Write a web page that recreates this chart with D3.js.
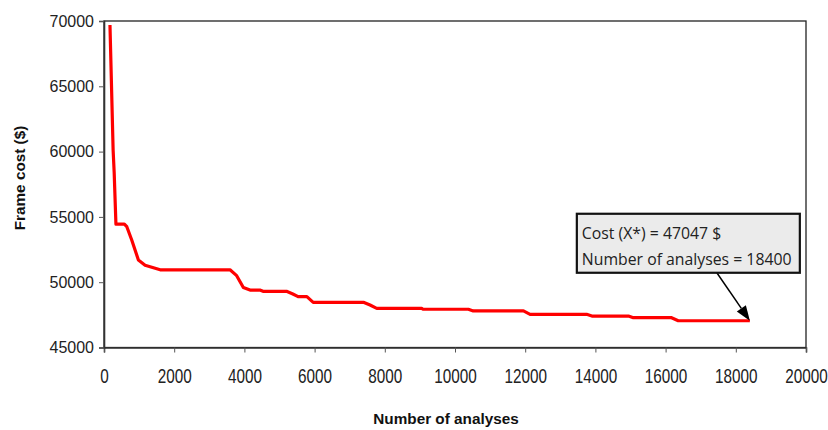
<!DOCTYPE html>
<html><head><meta charset="utf-8">
<script src="https://cdn.jsdelivr.net/npm/d3@7"></script>
<style>body{margin:0;background:#fff}svg{display:block}</style>
</head><body><svg id="c" width="828" height="430"></svg>
<script>
const analyses = [170,260,290,310,340,580,650,790,980,1170,1600,3590,3780,3970,4160,4440,4530,5200,5380,5530,5780,5960,7390,7580,7770,9050,9090,10380,10520,11950,12140,13750,13900,14940,15080,16170,16360,18400];
const cost = [69700,60100,58400,56800,54450,54450,54250,53230,51700,51300,50950,50950,50500,49600,49400,49400,49300,49300,49100,48900,48900,48460,48460,48250,48000,48000,47930,47930,47800,47800,47540,47540,47410,47410,47280,47280,47047,47047];
const xTicks = [0,2000,4000,6000,8000,10000,12000,14000,16000,18000,20000];
const yTicks = [45000,50000,55000,60000,65000,70000];
const annotLines = ["Cost (X*) = 47047 $","Number of analyses = 18400"];

const svg = d3.select("#c");
const L=104,R=806,T=21,B=347.5;
const x = d3.scaleLinear().domain([0,20000]).range([L,R]);
const y = d3.scaleLinear().domain([45000,70000]).range([B,T]);

svg.append("rect").attr("x",L).attr("y",T).attr("width",R-L).attr("height",B-T)
  .attr("fill","none").attr("stroke","#222").attr("stroke-width",1.3);

const fontTick = "Liberation Sans, Arial, sans-serif";
const gx = svg.append("g").attr("transform",`translate(0,${B})`)
  .call(d3.axisBottom(x).tickValues(xTicks).tickFormat(d3.format("d")).tickSizeOuter(0).tickSize(5));
const gy = svg.append("g").attr("transform",`translate(${L},0)`)
  .call(d3.axisLeft(y).tickValues(yTicks).tickFormat(d3.format("d")).tickSizeOuter(0).tickSize(5).tickPadding(5));
[gx,gy].forEach(g=>{
  g.select(".domain").attr("stroke","#333").attr("stroke-width",1.6);
  g.selectAll(".tick line").attr("stroke","#555").attr("stroke-width",1);
  g.selectAll("text").attr("font-family",fontTick).attr("fill","#222");
});
gy.selectAll("text").attr("font-size",16);
gx.selectAll("text").attr("font-size",15.3).attr("y",0).attr("dy",0)
  .attr("transform","translate(0,35.5) scale(1,1.3)");

const line = d3.line().x((d,i)=>x(analyses[i])).y((d,i)=>y(cost[i]));
svg.append("path").datum(cost).attr("d",line).attr("fill","none")
  .attr("stroke","#ff0000").attr("stroke-width",3.2).attr("stroke-linejoin","round");

svg.append("text").attr("x",446).attr("y",424).attr("text-anchor","middle")
  .attr("font-family",fontTick).attr("font-weight","bold").attr("font-size",15.3).attr("fill","#111")
  .text("Number of analyses");
svg.append("text").attr("transform","translate(25,178) rotate(-90)").attr("text-anchor","middle")
  .attr("font-family",fontTick).attr("font-weight","bold").attr("font-size",15.3).attr("fill","#111")
  .text("Frame cost ($)");

const ex = x(analyses[analyses.length-1]), ey = y(cost[cost.length-1]);
const bx = ex-173, by = ey-107, bw = 223, bh = 59;
const x1 = ex-33, y1 = by+bh;
const ang = Math.atan2(ey-y1, ex-x1), hl = 15, hw = 5.5;
const bxp = ex - hl*Math.cos(ang), byp = ey - hl*Math.sin(ang);
svg.append("line").attr("x1",x1).attr("y1",y1).attr("x2",bxp).attr("y2",byp)
  .attr("stroke","#000").attr("stroke-width",1.5);
svg.append("path").attr("fill","#000").attr("d",
  `M${ex},${ey}L${bxp+hw*Math.sin(ang)},${byp-hw*Math.cos(ang)}L${bxp-hw*Math.sin(ang)},${byp+hw*Math.cos(ang)}Z`);
svg.append("rect").attr("x",bx).attr("y",by).attr("width",bw).attr("height",bh)
  .attr("fill","#ebebeb").attr("stroke","#111").attr("stroke-width",2.2);
svg.selectAll("text.ann").data(annotLines).join("text").attr("class","ann")
  .attr("x",bx+5).attr("y",(d,i)=>by+25+i*26)
  .attr("font-family","Open Sans, sans-serif").attr("font-size",15.8).attr("fill","#222")
  .text(d=>d);
</script></body></html>
